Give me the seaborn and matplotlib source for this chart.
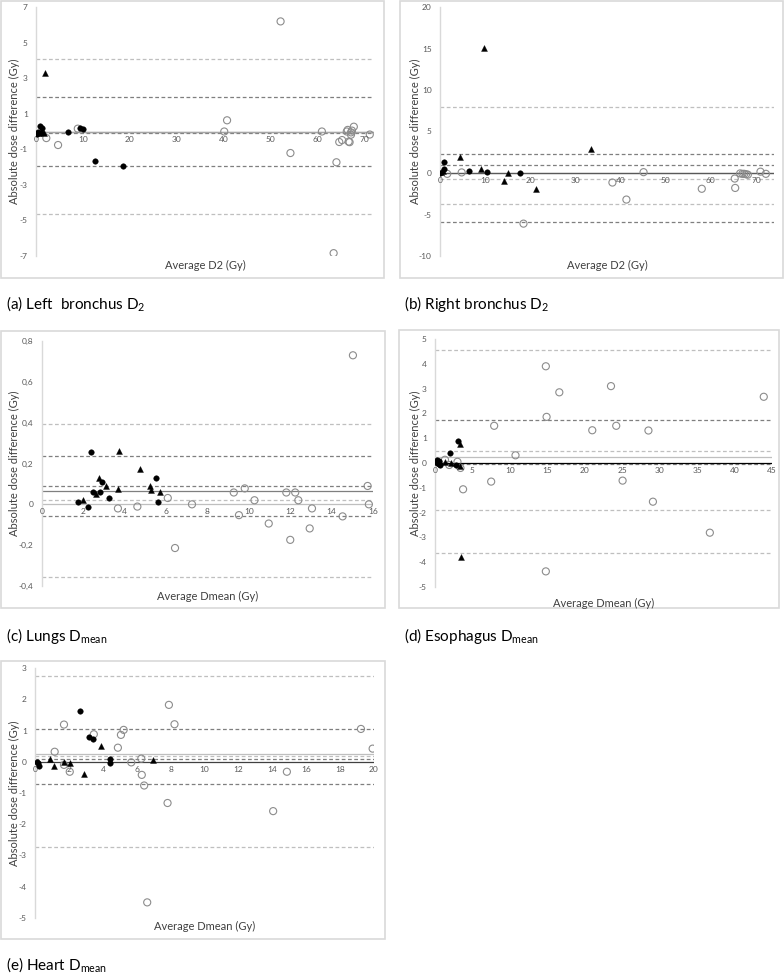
import numpy as np
import pandas as pd
import matplotlib
matplotlib.use("Agg")
import matplotlib.pyplot as plt
import seaborn as sns
from matplotlib.patches import Rectangle

sns.set_style("white")
plt.rcParams['font.family'] = ['Lato', 'DejaVu Sans']

# ---- data ----
# (a) left bronchus D2
a_filled_x = [0.2, 0.5, 0.8, 1.3, 1.0, 6.9, 9.4, 10.0, 12.6, 18.6]
a_filled_y = [-0.15, 0.0, 0.3, 0.2, -0.1, 0.0, 0.2, 0.16, -1.68, -1.92]
a_tri_x = [1.9, 1.2, 1.7, 0.4]
a_tri_y = [3.29, -0.05, -0.1, -0.08]
a_open_x = [2.2, 4.7, 8.9, 40.1, 40.7, 52.1, 54.2, 60.9, 63.4, 64.0, 64.6, 65.2,
            66.2, 66.4, 66.6, 66.8, 67.1, 67.3, 67.1, 67.7, 71.1]
a_open_y = [-0.37, -0.76, 0.16, 0.0, 0.63, 6.19, -1.21, 0.0, -6.84, -1.73, -0.59, -0.48,
            0.0, 0.09, -0.57, -0.6, -0.05, 0.05, -0.18, 0.27, -0.17]
a_lines = [4.08, 1.95, 0.0, -0.1, -1.93, -4.65]

# (b) right bronchus D2
b_filled_x = [0.8, 0.8, 0.1, 6.4, 10.5, 17.7]
b_filled_y = [1.34, 0.45, 0.0, 0.2, 0.16, 0.0]
b_tri_x = [9.8, 4.4, 9.0, 14.1, 15.0, 21.2, 33.4, 0.7, 0.3]
b_tri_y = [15.05, 1.9, 0.46, -0.99, -0.03, -1.88, 2.9, 0.3, 0.1]
b_open_x = [1.6, 4.8, 18.5, 38.2, 41.3, 45.1, 58.0, 65.3, 65.4, 66.5, 67.0, 67.4,
            67.8, 68.2, 71.0, 72.2]
b_open_y = [-0.1, 0.07, -6.1, -1.15, -3.2, 0.1, -1.9, -0.67, -1.8, -0.05, -0.1, -0.1,
            -0.15, -0.2, 0.16, -0.1]
b_lines = [7.94, 2.3, 0.98, 0.05, -0.75, -3.77, -5.9]

# (c) lungs Dmean
c_filled_x = [1.76, 2.22, 2.36, 2.48, 2.82, 2.92, 3.23, 5.53, 5.59]
c_filled_y = [0.009, -0.012, 0.255, 0.062, 0.060, 0.11, 0.032, 0.13, 0.011]
c_tri_x = [2.0, 2.63, 2.77, 3.1, 3.66, 3.72, 4.74, 5.22, 5.27, 5.7]
c_tri_y = [0.02, 0.05, 0.127, 0.09, 0.073, 0.262, 0.172, 0.09, 0.07, 0.06]
c_open_x = [3.67, 4.61, 6.08, 6.43, 7.25, 9.27, 9.52, 9.8, 10.27, 10.96, 11.81, 12.0,
            12.24, 12.39, 12.94, 13.05, 14.53, 15.03, 15.74, 15.8]
c_open_y = [-0.02, -0.011, 0.031, -0.214, 0.0, 0.058, -0.053, 0.078, 0.02, -0.094, 0.058,
            -0.174, 0.058, 0.02, -0.118, -0.02, -0.059, 0.73, 0.09, 0.0]
c_lines = [0.392, 0.237, 0.092, 0.066, 0.022, -0.059, -0.355]

# (d) esophagus Dmean
d_filled_x = [3.1, 2.0, 2.85, 0.5, 0.7, 0.23, 0.4, 0.6, 0.3]
d_filled_y = [0.88, 0.4, -0.08, 0.1, -0.1, 0.0, 0.05, -0.05, 0.12]
d_tri_x = [3.35, 3.5, 1.37, 2.1, 3.4]
d_tri_y = [0.75, -3.78, 0.03, 0.0, -0.12]
d_open_x = [14.8, 14.9, 14.8, 16.6, 7.9, 7.5, 3.75, 10.75, 21.0, 23.5, 24.2, 25.05,
            28.5, 29.1, 36.7, 43.9, 1.33, 1.9, 3.0, 3.4]
d_open_y = [3.9, 1.86, -4.37, 2.85, 1.5, -0.75, -1.06, 0.31, 1.32, 3.1, 1.5, -0.71,
            1.31, -1.56, -2.81, 2.67, 0.13, -0.08, 0.05, -0.2]
d_lines = [4.55, 1.74, 0.48, 0.25, -0.05, -1.89, -3.61]

# (e) heart Dmean
e_filled_x = [2.68, 3.21, 3.41, 4.4, 4.4, 0.1, 0.24, 0.15]
e_filled_y = [1.63, 0.78, 0.74, 0.09, -0.05, 0.0, -0.12, -0.05]
e_tri_x = [0.91, 1.15, 1.72, 2.07, 2.88, 3.92, 6.97]
e_tri_y = [0.1, -0.13, -0.01, -0.05, -0.38, 0.49, 0.06]
e_open_x = [1.16, 1.71, 1.71, 2.05, 3.47, 4.89, 5.07, 5.23, 5.68, 6.27, 6.3, 6.44,
            6.62, 7.82, 7.9, 8.23, 14.05, 14.86, 19.23, 19.92]
e_open_y = [0.32, 1.19, -0.1, -0.32, 0.88, 0.45, 0.86, 1.02, -0.02, 0.1, -0.42, -0.76,
            -4.5, -1.32, 1.82, 1.2, -1.58, -0.32, 1.05, 0.42]
e_lines = [2.76, 1.05, 0.25, 0.18, 0.1, -0.71, -2.73]

ylabel = "Absolute dose difference (Gy)"
xlabels = ["Average D2 (Gy)", "Average D2 (Gy)", "Average Dmean (Gy)",
           "Average Dmean (Gy)", "Average Dmean (Gy)"]
captions = ["(a) Left  bronchus D$_\\mathregular{2}$", "(b) Right bronchus D$_\\mathregular{2}$",
            "(c) Lungs D$_\\mathregular{mean}$", "(d) Esophagus D$_\\mathregular{mean}$",
            "(e) Heart D$_\\mathregular{mean}$"]
yticks = [[7, 5, 3, 1, -1, -3, -5, -7],
          [20, 15, 10, 5, 0, -5, -10],
          [0.8, 0.6, 0.4, 0.2, 0, -0.2, -0.4],
          [5, 4, 3, 2, 1, 0, -1, -2, -3, -4, -5],
          [3, 2, 1, 0, -1, -2, -3, -4, -5]]
ytick_labels = [["7", "5", "3", "1", "-1", "-3", "-5", "-7"],
                ["20", "15", "10", "5", "0", "-5", "-10"],
                ["0,8", "0,6", "0,4", "0,2", "0", "-0,2", "-0,4"],
                ["5", "4", "3", "2", "1", "0", "-1", "-2", "-3", "-4", "-5"],
                ["3", "2", "1", "0", "-1", "-2", "-3", "-4", "-5"]]
xticks = [list(range(0, 71, 10)), list(range(0, 71, 10)), list(range(0, 17, 2)),
          list(range(0, 46, 5)), list(range(0, 21, 2))]
xlims = [(0, 72), (0, 74), (0, 16), (0, 45), (0, 20)]
ylims = [(-7, 7), (-10, 20), (-0.4, 0.8), (-5, 5), (-5, 3)]

# line looks for each panel (same order as the line lists)
LIGHT = "#bfbfbf"
DARK = "#7f7f7f"
line_looks = [
    [(LIGHT, "--"), (DARK, "--"), (DARK, "-"), (DARK, "--"), (DARK, "--"), (LIGHT, "--")],
    [(LIGHT, "--"), (DARK, "--"), (DARK, "--"), (DARK, "-"), (LIGHT, "--"), (LIGHT, "--"), (DARK, "--")],
    [(LIGHT, "--"), (DARK, "--"), (DARK, "--"), (DARK, "-"), (LIGHT, "--"), (DARK, "--"), (LIGHT, "--")],
    [(LIGHT, "--"), (DARK, "--"), (LIGHT, "--"), (LIGHT, "-"), (DARK, "--"), (LIGHT, "--"), (LIGHT, "--")],
    [(LIGHT, "--"), (DARK, "--"), (LIGHT, "-"), (LIGHT, "--"), (DARK, "--"), (DARK, "--"), (LIGHT, "--")],
]
zero_colors = ["#a6a6a6", "#595959", "#bfbfbf", "#000000", "#404040"]

W, H = 784, 975
# pixel boxes: axes (x0, y0, x1, y1), frame, caption position, label offsets
axes_px = [(36, 7, 374, 256), (440, 7, 774, 256), (42, 341, 373, 586),
           (435, 339, 772, 587), (35, 668, 374, 918)]
frames_px = [(1, 1, 384, 278), (400, 1, 783, 278), (1, 331, 385, 608),
             (399, 330, 779, 608), (1, 661, 385, 939)]
caption_px = [(6, 304), (404, 304), (6, 636), (404, 636), (6, 965)]
ylab_x = [14, 415, 14, 415, 14]
xlab_y = [265, 265, 596, 603, 926]

fig = plt.figure(figsize=(W / 100, H / 100), dpi=100)

panels = [
    (a_filled_x, a_filled_y, a_tri_x, a_tri_y, a_open_x, a_open_y, a_lines),
    (b_filled_x, b_filled_y, b_tri_x, b_tri_y, b_open_x, b_open_y, b_lines),
    (c_filled_x, c_filled_y, c_tri_x, c_tri_y, c_open_x, c_open_y, c_lines),
    (d_filled_x, d_filled_y, d_tri_x, d_tri_y, d_open_x, d_open_y, d_lines),
    (e_filled_x, e_filled_y, e_tri_x, e_tri_y, e_open_x, e_open_y, e_lines),
]

for i, (fx, fy, tx, ty, ox, oy, lines) in enumerate(panels):
    fx0, fy0, fx1, fy1 = frames_px[i]
    fig.patches.append(Rectangle((fx0 / W, 1 - fy1 / H), (fx1 - fx0) / W, (fy1 - fy0) / H,
                                 transform=fig.transFigure, fill=False,
                                 edgecolor="#d9d9d9", linewidth=1.2))
    x0, y0, x1, y1 = axes_px[i]
    ax = fig.add_axes([x0 / W, 1 - y1 / H, (x1 - x0) / W, (y1 - y0) / H])
    ax.set_facecolor("none")

    for val, (col, ls) in zip(lines, line_looks[i]):
        if ls == "-":
            ax.axhline(val, color=col, linewidth=0.9, zorder=1)
        else:
            ax.axhline(val, color=col, linewidth=0.9, linestyle=(0, (3, 2)), zorder=1)
    ax.axhline(0, color=zero_colors[i], linewidth=0.9, zorder=1)

    df_o = pd.DataFrame({"x": ox, "y": oy})
    df_f = pd.DataFrame({"x": fx, "y": fy})
    df_t = pd.DataFrame({"x": tx, "y": ty})
    sns.scatterplot(data=df_o, x="x", y="y", ax=ax, marker="o", s=26,
                    facecolors="none", edgecolor="#8c8c8c", linewidth=0.8, zorder=3)
    sns.scatterplot(data=df_f, x="x", y="y", ax=ax, marker="o", s=16,
                    color="black", edgecolor="black", linewidth=0.3, zorder=4)
    sns.scatterplot(data=df_t, x="x", y="y", ax=ax, marker="^", s=18,
                    color="black", edgecolor="black", linewidth=0.3, zorder=4)

    ax.set_xlim(*xlims[i])
    ax.set_ylim(*ylims[i])
    ax.set_xticks(xticks[i])
    ax.set_xticklabels([])
    ax.set_yticks(yticks[i])
    ax.set_yticklabels(ytick_labels[i])
    ax.tick_params(axis="both", length=0, labelsize=6, labelcolor="#595959")
    ax.tick_params(axis="y", pad=6)
    for sp in ["top", "right", "bottom"]:
        ax.spines[sp].set_visible(False)
    ax.spines["left"].set_color("#d9d9d9")
    ax.spines["left"].set_linewidth(1.0)
    # x tick labels sit just under the zero line, Excel style
    for t in xticks[i]:
        ax.annotate(str(t), xy=(t, 0), xycoords="data", xytext=(0, -3), textcoords="offset points",
                    ha="center", va="top", fontsize=6, color="#595959")
    ax.set_xlabel("")
    ax.set_ylabel("")

    fig.text(ylab_x[i] / W, 1 - ((y0 + y1) / 2) / H, ylabel, rotation=90,
             ha="center", va="center", fontsize=8, color="#404040")
    fig.text(((x0 + x1) / 2) / W, 1 - xlab_y[i] / H, xlabels[i],
             ha="center", va="center", fontsize=8, color="#404040")
    fig.text(caption_px[i][0] / W, 1 - caption_px[i][1] / H, captions[i],
             ha="left", va="center", fontsize=11, color="black")

fig.savefig("out.png", dpi=100)
